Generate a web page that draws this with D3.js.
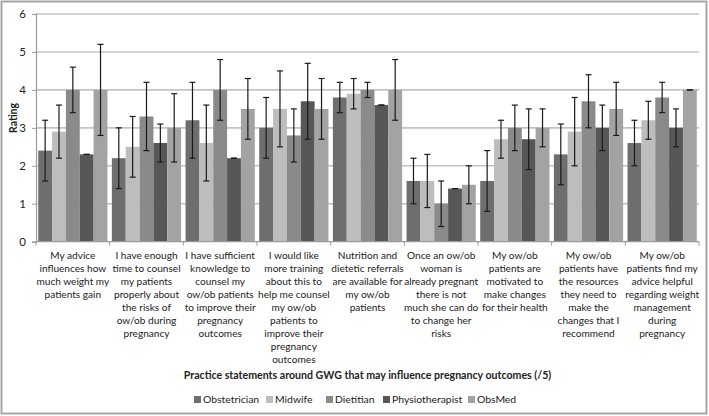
<!DOCTYPE html>
<html><head><meta charset="utf-8">
<script src="https://cdn.jsdelivr.net/npm/d3@7"></script>
<style>body{margin:0;background:#fff}svg{display:block}text{font-family:Lato,"Open Sans",sans-serif;fill:#222}</style>
</head><body><svg id="c" width="709" height="416"></svg>
<script>
const categories = [
 "My advice|influences how|much weight my|patients gain",
 "I have enough|time to counsel|my patients|properly about|the risks of|ow/ob during|pregnancy",
 "I have sufficient|knowledge to|counsel my|ow/ob patients|to improve their|pregnancy|outcomes",
 "I would like|more training|about this to|help me counsel|my ow/ob|patients to|improve their|pregnancy|outcomes",
 "Nutrition and|dietetic referrals|are available for|my ow/ob|patients",
 "Once an ow/ob|woman is|already pregnant|there is not|much she can do|to change her|risks",
 "My ow/ob|patients are|motivated to|make changes|for their health",
 "My ow/ob|patients have|the resources|they need to|make the|changes that I|recommend",
 "My ow/ob|patients find my|advice helpful|regarding weight|management|during|pregnancy"
];
const seriesNames = ["Obstetrician","Midwife","Dietitian","Physiotherapist","ObsMed"];
const seriesColors = ["#6e6e6e","#bdbdbd","#8a8a8a","#575757","#a3a3a3"];
const obstetrician = [2.4,2.2,3.2,3.0,3.8,1.6,1.6,2.3,2.6];
const obstetricianErr = [0.8,0.8,1.0,0.8,0.4,0.6,0.8,0.8,0.6];
const midwife = [2.9,2.5,2.6,3.5,3.9,1.6,2.7,2.9,3.2];
const midwifeErr = [0.7,0.8,1.0,1.0,0.4,0.7,0.5,0.9,0.5];
const dietitian = [4.0,3.3,4.0,2.8,4.0,1.0,3.0,3.7,3.8];
const dietitianErr = [0.6,0.9,0.8,0.7,0.2,0.6,0.6,0.7,0.4];
const physiotherapist = [2.3,2.6,2.2,3.7,3.6,1.4,2.7,3.0,3.0];
const physiotherapistErr = [0,0.5,0,1.0,0,0,0.8,0.6,0.5];
const obsmed = [4.0,3.0,3.5,3.5,4.0,1.5,3.0,3.5,4.0];
const obsmedErr = [1.2,0.9,0.8,0.8,0.8,0.5,0.5,0.7,0];
const yTicks = [0,1,2,3,4,5,6];
const yTitle = "Rating";
const xTitle = "Practice statements around GWG that may influence pregnancy outcomes (/5)";

const values = [obstetrician, midwife, dietitian, physiotherapist, obsmed];
const errs = [obstetricianErr, midwifeErr, dietitianErr, physiotherapistErr, obsmedErr];
const FS = 10.4;

const svg = d3.select("#c");
svg.append("rect").attr("x",1.5).attr("y",1.5).attr("width",705).attr("height",412)
  .attr("fill","none").attr("stroke","#a6a6a6").attr("stroke-width",2);

const L=36, R=699, T=14, B=241.7;
const y = d3.scaleLinear().domain([0,6]).range([B,T]);
const x = d3.scaleBand().domain(d3.range(categories.length)).range([L,R]).paddingInner(0).paddingOuter(0);
const xs = d3.scaleBand().domain(d3.range(seriesNames.length)).range([0,x.bandwidth()]).paddingOuter(0.16).paddingInner(0);

// gridlines
svg.append("g").selectAll("line").data(yTicks.filter(d=>d>0)).join("line")
  .attr("x1",L).attr("x2",R).attr("y1",d=>y(d)).attr("y2",d=>y(d))
  .attr("stroke","#c4c4c4").attr("stroke-width",1.6);

// y axis
const ya = svg.append("g").attr("transform",`translate(${L},0)`)
  .call(d3.axisLeft(y).tickValues(yTicks).tickFormat(d3.format("d")).tickSize(4).tickPadding(6));
ya.select(".domain").attr("stroke","#9a9a9a").attr("stroke-width",1.2);
ya.selectAll(".tick line").attr("stroke","#9a9a9a");
ya.selectAll("text").attr("font-size",11.5).attr("fill","#222").style("font-family","Lato,sans-serif");

// bars
const gs = svg.append("g").selectAll("g").data(values).join("g").attr("fill",(d,i)=>seriesColors[i]);
gs.each(function(vals,si){
  d3.select(this).selectAll("rect").data(vals).join("rect")
    .attr("x",(v,ci)=>x(ci)+xs(si)).attr("width",xs.bandwidth())
    .attr("y",v=>y(v)).attr("height",v=>y(0)-y(v));
});

// error bars
const eg = svg.append("g").attr("stroke","#1a1a1a").attr("stroke-width",1.2);
values.forEach((vals,si)=>{
  vals.forEach((v,ci)=>{
    const e = errs[si][ci];
    const cx = x(ci)+xs(si)+xs.bandwidth()/2;
    const y1=y(v+e), y2=y(v-e);
    eg.append("line").attr("x1",cx).attr("x2",cx).attr("y1",y1).attr("y2",y2);
    eg.append("line").attr("x1",cx-3).attr("x2",cx+3).attr("y1",y1).attr("y2",y1);
    eg.append("line").attr("x1",cx-3).attr("x2",cx+3).attr("y1",y2).attr("y2",y2);
  });
});

// x axis
svg.append("line").attr("x1",L).attr("x2",R).attr("y1",B).attr("y2",B).attr("stroke","#9a9a9a").attr("stroke-width",1.2);
svg.append("g").selectAll("line").data(d3.range(categories.length+1)).join("line")
  .attr("x1",i=>L+i*x.step()).attr("x2",i=>L+i*x.step()).attr("y1",B).attr("y2",B+4)
  .attr("stroke","#9a9a9a");

// category labels
const lab = svg.append("g").selectAll("text").data(categories).join("text")
  .attr("text-anchor","middle").attr("font-size",10.1)
  .attr("transform",(d,i)=>`translate(${x(i)+x.bandwidth()/2},259)`);
lab.each(function(d){
  d3.select(this).selectAll("tspan").data(d.split("|")).join("tspan")
    .attr("x",0).attr("y",(t,j)=>j*13).text(t=>t);
});

// axis titles
svg.append("text").attr("x",(L+R)/2).attr("y",379).attr("text-anchor","middle")
  .attr("font-size",10.6).attr("font-weight","bold").text(xTitle);
svg.append("text").attr("transform","translate(17,118) rotate(-90)").attr("text-anchor","middle")
  .attr("font-size",FS).attr("font-weight","bold").text(yTitle);

// legend
const legX = [194,266,326,383,468];
const lg = svg.append("g").selectAll("g").data(seriesNames).join("g")
  .attr("transform",(d,i)=>`translate(${legX[i]},403)`);
lg.append("rect").attr("x",0).attr("y",-7).attr("width",7).attr("height",7).attr("fill",(d,i)=>seriesColors[i]);
lg.append("text").attr("x",9).attr("y",0).attr("font-size",FS).text(d=>d);
</script></body></html>
